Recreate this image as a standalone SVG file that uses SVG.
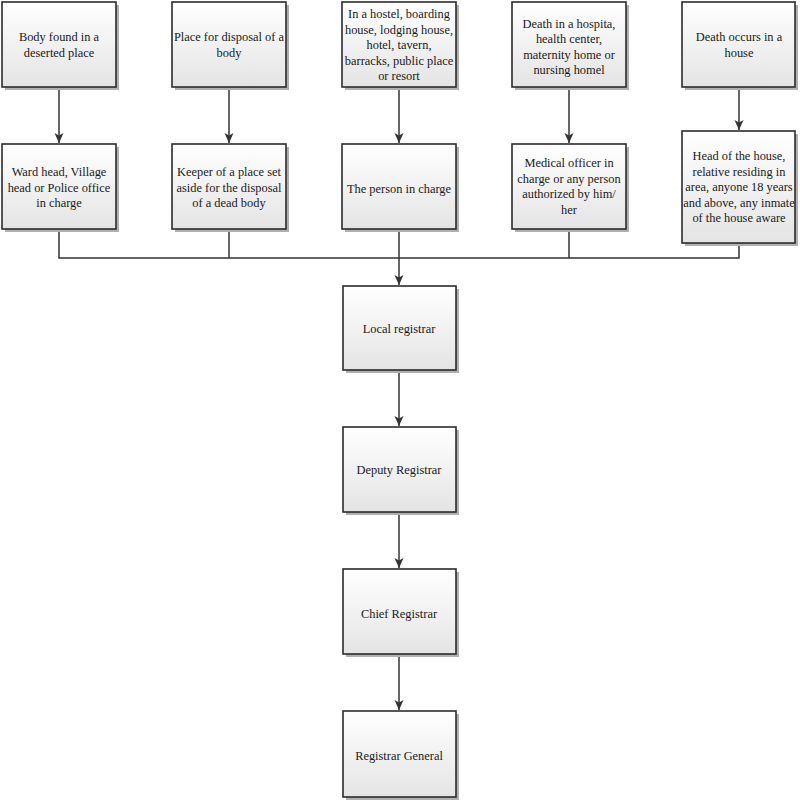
<svg xmlns="http://www.w3.org/2000/svg" width="800" height="802" viewBox="0 0 800 802">
<style>
.box{fill:url(#g);stroke:#2b2b2b;stroke-width:1.6}
.sh{fill:#b0b0b0}
.t{font-family:"Liberation Serif","Times New Roman",serif;font-size:12.4px;fill:#1a1a1a;text-anchor:middle}
.c{fill:none;stroke:#333;stroke-width:1.5}
</style>
<defs>
<linearGradient id="g" x1="0" y1="0" x2="0" y2="1">
<stop offset="0" stop-color="#ffffff"/>
<stop offset="1" stop-color="#e4e4e4"/>
</linearGradient>
<marker id="ah" markerWidth="10" markerHeight="10" viewBox="0 0 10 10" refX="10" refY="5" orient="auto" markerUnits="userSpaceOnUse">
<path d="M0,0.5 L10,5 L0,9.5 L2.5,5 z" fill="#333"/>
</marker>
</defs>
<rect width="800" height="802" fill="#ffffff"/>

<g id="connectors">
<path class="c" d="M59,87 V143" marker-end="url(#ah)"/>
<path class="c" d="M229,87 V143" marker-end="url(#ah)"/>
<path class="c" d="M399,87 V143" marker-end="url(#ah)"/>
<path class="c" d="M569,87 V143" marker-end="url(#ah)"/>
<path class="c" d="M739,87 V130" marker-end="url(#ah)"/>
<path class="c" d="M59,229 V258 H739 V243"/>
<path class="c" d="M229,229 V258"/>
<path class="c" d="M399,229 V285" marker-end="url(#ah)"/>
<path class="c" d="M569,229 V258"/>
<path class="c" d="M399,370 V426" marker-end="url(#ah)"/>
<path class="c" d="M399,512 V568" marker-end="url(#ah)"/>
<path class="c" d="M399,654 V710" marker-end="url(#ah)"/>
</g>

<g id="n1"><rect class="sh" x="5" y="5" width="114" height="85"/><rect class="box" x="2" y="2" width="114" height="85"/>
<text class="t" x="59" y="41">Body found in a</text><text class="t" x="59" y="56.5">deserted place</text></g>
<g id="n2"><rect class="sh" x="175" y="5" width="114" height="85"/><rect class="box" x="172" y="2" width="114" height="85"/>
<text class="t" x="229" y="41">Place for disposal of a</text><text class="t" x="229" y="56.5">body</text></g>
<g id="n3"><rect class="sh" x="345" y="5" width="114" height="85"/><rect class="box" x="342" y="2" width="114" height="85"/>
<text class="t" x="399" y="18">In a hostel, boarding</text><text class="t" x="399" y="33.5">house, lodging house,</text><text class="t" x="399" y="49">hotel, tavern,</text><text class="t" x="399" y="64.5">barracks, public place</text><text class="t" x="399" y="80">or resort</text></g>
<g id="n4"><rect class="sh" x="515" y="5" width="114" height="85"/><rect class="box" x="512" y="2" width="114" height="85"/>
<text class="t" x="569" y="27.5">Death in a hospita,</text><text class="t" x="569" y="43">health center,</text><text class="t" x="569" y="58.5">maternity home or</text><text class="t" x="569" y="74">nursing homel</text></g>
<g id="n5"><rect class="sh" x="685" y="5" width="113" height="85"/><rect class="box" x="682" y="2" width="113" height="85"/>
<text class="t" x="739" y="41">Death occurs in a</text><text class="t" x="739" y="56.5">house</text></g>

<g id="n6"><rect class="sh" x="5" y="147" width="114" height="85"/><rect class="box" x="2" y="144" width="114" height="85"/>
<text class="t" x="59" y="176">Ward head, Village</text><text class="t" x="59" y="191.5">head or Police office</text><text class="t" x="59" y="207">in charge</text></g>
<g id="n7"><rect class="sh" x="175" y="147" width="114" height="85"/><rect class="box" x="172" y="144" width="114" height="85"/>
<text class="t" x="229" y="176">Keeper of a place set</text><text class="t" x="229" y="191.5">aside for the disposal</text><text class="t" x="229" y="207">of a dead body</text></g>
<g id="n8"><rect class="sh" x="345" y="147" width="114" height="85"/><rect class="box" x="342" y="144" width="114" height="85"/>
<text class="t" x="399" y="193">The person in charge</text></g>
<g id="n9"><rect class="sh" x="515" y="147" width="114" height="85"/><rect class="box" x="512" y="144" width="114" height="85"/>
<text class="t" x="569" y="167">Medical officer in</text><text class="t" x="569" y="182.5">charge or any person</text><text class="t" x="569" y="198">authorized by him/</text><text class="t" x="569" y="213.5">her</text></g>
<g id="n10"><rect class="sh" x="685" y="134" width="113" height="112"/><rect class="box" x="682" y="131" width="113" height="112"/>
<text class="t" x="739" y="160">Head of the house,</text><text class="t" x="739" y="175.5">relative residing in</text><text class="t" x="739" y="191">area, anyone 18 years</text><text class="t" x="739" y="206.5">and above, any inmate</text><text class="t" x="739" y="222">of the house aware</text></g>

<g id="n11"><rect class="sh" x="346" y="289" width="113" height="84"/><rect class="box" x="343" y="286" width="113" height="84"/>
<text class="t" x="399" y="333">Local registrar</text></g>
<g id="n12"><rect class="sh" x="346" y="430" width="113" height="85"/><rect class="box" x="343" y="427" width="113" height="85"/>
<text class="t" x="399" y="474">Deputy Registrar</text></g>
<g id="n13"><rect class="sh" x="346" y="572" width="113" height="85"/><rect class="box" x="343" y="569" width="113" height="85"/>
<text class="t" x="399" y="618">Chief Registrar</text></g>
<g id="n14"><rect class="sh" x="346" y="714" width="113" height="86"/><rect class="box" x="343" y="711" width="113" height="86"/>
<text class="t" x="399" y="760">Registrar General</text></g>
</svg>
